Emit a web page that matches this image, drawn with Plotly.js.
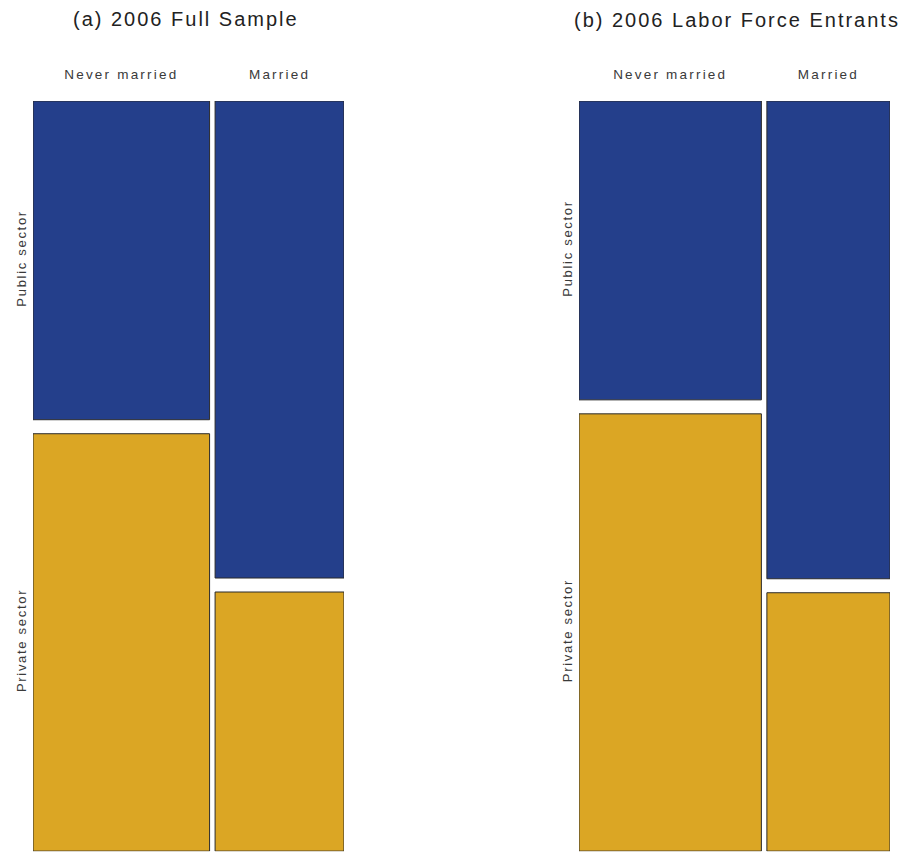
<!DOCTYPE html>
<html>
<head>
<meta charset="utf-8">
<script src="https://cdn.plot.ly/plotly-3.0.1.min.js"></script>
<style>
html,body{margin:0;padding:0;background:#fff;}
#chart{width:909px;height:852px;}
.xtick text, .x2tick text {letter-spacing: 2.2px;}
.ytick text, .y2tick text {letter-spacing: 1.7px;}
.annotation-text {letter-spacing: 2px;}
</style>
</head>
<body>
<div id="chart"></div>
<script>
// Data
var maritalStatus = ['Never married', 'Married'];
var sectors = ['Public sector', 'Private sector'];
var panelTitles = ['(a) 2006 Full Sample', '(b) 2006 Labor Force Entrants'];
// share of each marital group (column widths)
var colShareA = [0.578, 0.422];
var colShareB = [0.597, 0.403];
// share in public sector within each marital group
var publicShareA = [0.433, 0.648];
var publicShareB = [0.406, 0.649];

var colors = {public: '#243f8b', private: '#dba624'};
var gapX = 0.018, gapY = 0.019;
var fontFam = '"Liberation Sans", Arial, Helvetica, sans-serif';

function centers(colShare) {
  var xs = [], acc = 0;
  for (var i = 0; i < colShare.length; i++) { xs.push(acc + i * gapX + colShare[i] / 2); acc += colShare[i]; }
  return xs;
}

function panel(colShare, pubShare, xa, ya) {
  var xs = centers(colShare);
  var priv = pubShare.map(function (p) { return 1 - p; });
  var pubBase = priv.map(function (q) { return q + gapY; });
  var line = {color: '#2b2b2b', width: 1};
  return [
    {type: 'bar', x: xs, y: pubShare, base: pubBase, width: colShare, xaxis: xa, yaxis: ya,
     marker: {color: colors.public, line: line}, name: sectors[0], hoverinfo: 'none'},
    {type: 'bar', x: xs, y: priv, base: [0, 0], width: colShare, xaxis: xa, yaxis: ya,
     marker: {color: colors.private, line: line}, name: sectors[1], hoverinfo: 'none'}
  ];
}

var traces = panel(colShareA, publicShareA, 'x', 'y').concat(panel(colShareB, publicShareB, 'x2', 'y2'));

function xAxis(colShare, domain) {
  return {domain: domain, range: [0, 1 + gapX], side: 'top', tickvals: centers(colShare), ticktext: maritalStatus,
    ticks: 'outside', ticklen: 16, tickcolor: 'rgba(0,0,0,0)', showgrid: false, zeroline: false,
    showline: false, fixedrange: true, tickfont: {family: fontFam, size: 13.5, color: '#3a3a3a'}};
}
function yAxis(pubShare, anchor) {
  var p = pubShare[0], q = 1 - p;
  return {domain: [0.001, 0.8815], range: [0, 1 + gapY], anchor: anchor,
    tickvals: [q + gapY + p / 2, q / 2], ticktext: sectors, tickangle: -90,
    ticks: 'outside', ticklen: 1, tickcolor: 'rgba(0,0,0,0)', showgrid: false, zeroline: false,
    showline: false, fixedrange: true, tickfont: {family: fontFam, size: 13, color: '#3a3a3a'}};
}

var layout = {
  width: 909, height: 852, margin: {l: 0, r: 0, t: 0, b: 0},
  paper_bgcolor: '#fff', plot_bgcolor: '#fff', showlegend: false, barmode: 'overlay', bargap: 0,
  xaxis: xAxis(colShareA, [33 / 909, 344 / 909]),
  yaxis: yAxis(publicShareA, 'x'),
  xaxis2: xAxis(colShareB, [579 / 909, 890 / 909]),
  yaxis2: yAxis(publicShareB, 'x2'),
  annotations: [
    {text: panelTitles[0], xref: 'paper', yref: 'paper', x: 186 / 909, y: 1 - 19 / 852, showarrow: false,
     xanchor: 'center', yanchor: 'middle', font: {family: fontFam, size: 20, color: '#222'}},
    {text: panelTitles[1], xref: 'paper', yref: 'paper', x: 737 / 909, y: 1 - 20 / 852, showarrow: false,
     xanchor: 'center', yanchor: 'middle', font: {family: fontFam, size: 20, color: '#222'}}
  ]
};

Plotly.newPlot('chart', traces, layout, {staticPlot: true, displayModeBar: false});
</script>
</body>
</html>
